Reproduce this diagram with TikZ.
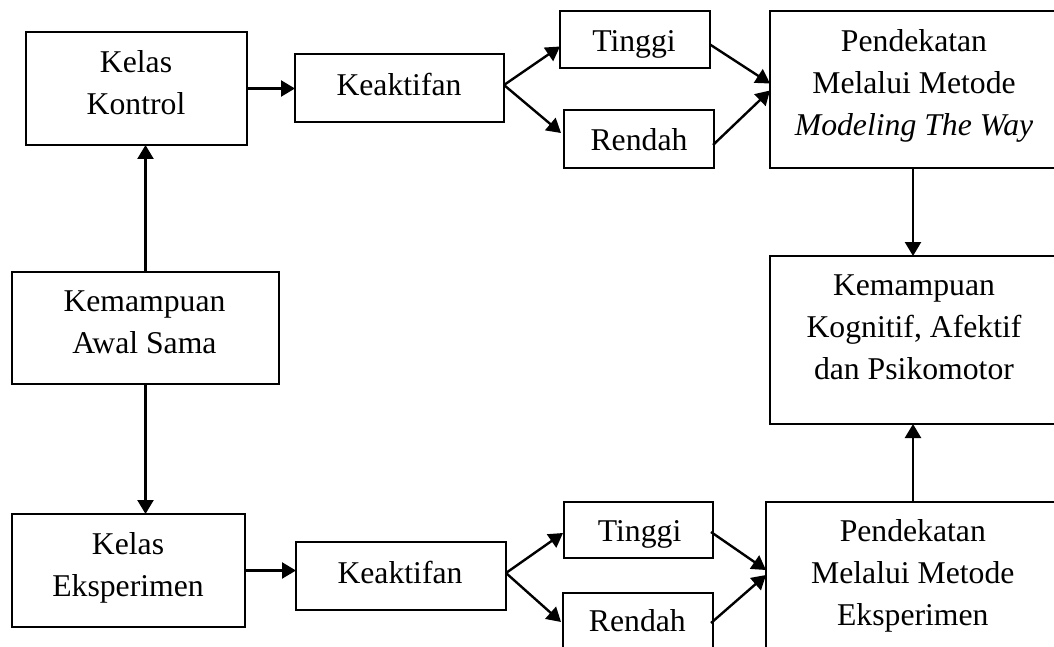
\documentclass[tikz,border=0pt]{standalone}
\usepackage{fontspec}
\setmainfont{Liberation Serif}
\usetikzlibrary{arrows.meta,calc}
\tikzset{
  bx/.style={draw, line width=2pt, inner sep=0pt, outer sep=0pt},
  txt/.style={align=center, inner sep=0pt, font=\fontsize{31.7}{42}\selectfont},
  arr/.style={line width=2.4pt, -{Triangle[length=14pt,width=16pt]}}
}
\begin{document}
\begin{tikzpicture}[x=1pt,y=-1pt]
\useasboundingbox (0,0) rectangle (1054,647);
\clip (0,0) rectangle (1054,647);
% boxes
\node[bx, minimum width=221pt, minimum height=113pt] (kk) at (136.5,88.5) {};
\node[bx, minimum width=209pt, minimum height=68pt] (ka1) at (399.5,88) {};
\node[bx, minimum width=150pt, minimum height=57pt] (t1) at (635,39.5) {};
\node[bx, minimum width=150pt, minimum height=58pt] (r1) at (639,139) {};
\node[bx, minimum width=286pt, minimum height=157pt] (p1) at (913,89.5) {};
\node[bx, minimum width=286pt, minimum height=168pt] (km) at (913,340) {};
\node[bx, minimum width=267pt, minimum height=112pt] (aw) at (145.5,328) {};
\node[bx, minimum width=233pt, minimum height=113pt] (ke) at (128.5,570.5) {};
\node[bx, minimum width=210pt, minimum height=68pt] (ka2) at (401,576) {};
\node[bx, minimum width=149pt, minimum height=56pt] (t2) at (638.5,530) {};
\node[bx, minimum width=150pt, minimum height=56pt] (r2) at (638,621) {};
\node[bx, minimum width=291pt, minimum height=148pt] (p2) at (911.5,576) {};
% texts
\node[txt] (kkT) at (136,82.2) {Kelas\\Kontrol};
\node[txt] (ka1T) at (399,84.9) {Keaktifan};
\node[txt] (t1T) at (634,44.2) {Tinggi};
\node[txt] (r1T) at (639,139.2) {Rendah};
\node[txt] (p1T) at (914,86) {Pendekatan\\Melalui Metode\\\textit{Modeling The Way}};
\node[txt] (kmT) at (914,327.6) {Kemampuan\\Kognitif, Afektif\\dan Psikomotor};
\node[txt] (awT) at (144.5,322) {Kemampuan\\Awal Sama};
\node[txt] (keT) at (128,567.7) {Kelas\\Eksperimen};
\node[txt] (ka2T) at (400,572.5) {Keaktifan};
\node[txt] (t2T) at (639.6,534.3) {Tinggi};
\node[txt] (r2T) at (637.4,620.8) {Rendah};
\node[txt] (p2T) at (912.8,576.3) {Pendekatan\\Melalui Metode\\Eksperimen};
% connectors
\draw[arr] (aw.north) -- (aw.north |- kk.south);
\draw[arr] (aw.south) -- (aw.south |- ke.north);
\draw[arr] (kk.east) -- (kk.east -| ka1.west);
\draw[arr] (ke.east) -- (ke.east -| ka2.west);
\draw[arr] ($(ka1.east)+(0,-3)$) -- ($(t1.west)+(0,7)$);
\draw[arr] ($(ka1.east)+(0,-3)$) -- ($(r1.west)+(-3,-6)$);
\draw[arr] ($(t1.east)+(0,5)$) -- ($(p1.west)+(0,-6)$);
\draw[arr] ($(r1.east)+(-1,6)$) -- ($(p1.west)+(0,1)$);
\draw[arr] (p1.south) -- (p1.south |- km.north);
\draw[arr] (km.south |- p2.north) -- (km.south);
\draw[arr] ($(ka2.east)+(0,-3)$) -- ($(t2.west)+(-1,3)$);
\draw[arr] ($(ka2.east)+(0,-3)$) -- ($(r2.west)+(-2,1)$);
\draw[arr] ($(t2.east)+(-2,2)$) -- ($(p2.west)+(0,-6)$);
\draw[arr] ($(r2.east)+(-2,2)$) -- ($(p2.west)+(0,-1)$);
\end{tikzpicture}
\end{document}
